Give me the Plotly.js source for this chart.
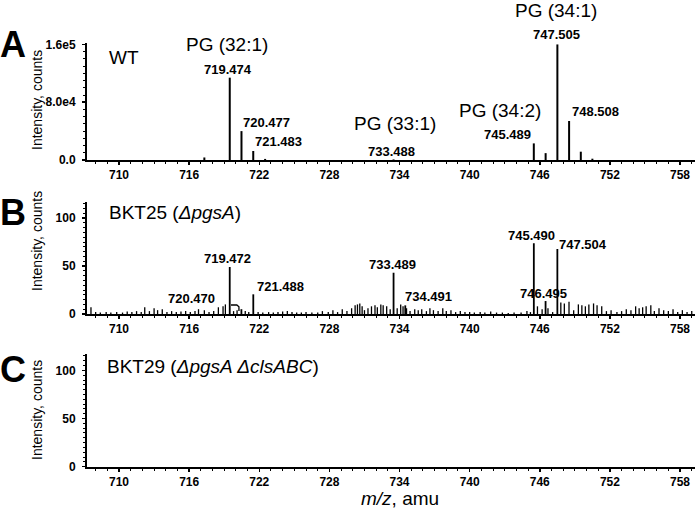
<!DOCTYPE html>
<html><head><meta charset="utf-8">
<script src="https://cdn.plot.ly/plotly-3.0.1.min.js"></script>
<style>html,body{margin:0;padding:0;background:#fff}</style>
</head><body><div id="chart" style="width:700px;height:508px"></div>
<script>
// Panel A (WT) peaks: m/z and intensity (counts)
const mzA  = [717.3, 719.474, 720.477, 721.483, 722.5, 733.488, 745.489, 746.5, 747.505, 748.508, 749.51, 750.5];
const intA = [3500, 114000, 40000, 12500, 1500, 800, 23000, 9500, 160000, 54000, 11500, 1800];

// Panel B (BKT25) labelled peaks
const mzBpk  = [719.472, 720.470, 721.488, 733.489, 734.491, 745.490, 746.495, 747.504];
const intBpk = [49, 5, 20.5, 43, 9, 73.6, 13.5, 67.7];

// Panel B background noise peaks
const mzBnoise = [707.6,708.0,708.4,708.9,709.3,709.8,710.3,710.7,711.1,711.5,711.9,712.2,712.6,713.0,713.3,713.7,714.1,714.5,714.9,715.3,715.7,716.1,716.5,716.8,717.3,717.7,718.1,718.5,718.9,719.1,719.8,720.1,720.8,721.1,721.9,722.3,722.8,723.2,723.6,724.0,724.4,724.8,725.2,725.6,726.0,726.5,727.0,727.4,727.9,728.3,728.7,729.1,729.5,729.9,730.2,730.4,730.6,730.8,731.0,731.3,731.6,731.9,732.1,732.4,732.6,732.9,733.2,733.8,734.1,734.3,734.6,734.9,735.3,735.6,735.9,736.3,736.6,736.9,737.3,737.7,738.0,738.4,738.8,739.2,739.6,740.0,740.4,740.9,741.3,741.8,742.3,742.8,743.3,743.8,744.4,744.9,745.2,745.8,746.2,746.7,747.1,747.8,748.1,748.5,748.9,749.3,749.6,749.9,750.2,750.6,750.9,751.3,751.7,752.1,752.6,753.0,753.4,753.8,754.2,754.5,754.8,755.1,755.5,755.8,756.2,756.6,757.0,757.4,757.8,758.2,758.6,759.0];
const intBnoise = [7,2,1.5,2,1.5,2,1.5,2.5,2,3,2,7,3,6,4,5,2,3,2,2.5,3,2,3,5,4,2,3,7,8,10,3,4,3,2,2,1.5,2,1.5,2,2.5,3,2,1.5,1.5,2,1.5,1.5,3,2,4,2,5,3,6,9,10,11,8,4,6,8,9,7,10,9,8,5,6,10,8,6,3,5,4,5,3,6,4,3,6,3,4,2,3,2,2,1.5,2,1.5,2.5,1.5,1.5,1,1.5,1.5,3,2,8,5,6,2,12,11,12.8,4,10,9,8,10,11,9,8,3,4,2,3,5,4,8,6,7,8,9,3,6,4,3,5,2,4,2,3];

// Panel C (BKT29): no peaks detected
const mzC = [];
const intC = [];

const xTicks = [710, 716, 722, 728, 734, 740, 746, 752, 758];
const yTicksA = [0, 80000, 160000];
const yTickTextA = ['0.0', '8.0e4', '1.6e5'];
const yTicksBC = [0, 50, 100];

function sticks(mz, it) {
  const x = [], y = [];
  mz.forEach((m, i) => { x.push(m, m, null); y.push(0, it[i], null); });
  return {x, y};
}

const sA = sticks(mzA, intA);
const sBn = sticks(mzBnoise, intBnoise);
const sBp = sticks(mzBpk, intBpk);
const sC = sticks(mzC, intC);

const traces = [
  {x: sA.x, y: sA.y, xaxis: 'x', yaxis: 'y', mode: 'lines', line: {color: '#000', width: 2}, hoverinfo: 'skip', showlegend: false},
  {x: sBn.x, y: sBn.y, xaxis: 'x2', yaxis: 'y2', mode: 'lines', line: {color: '#000', width: 1.3}, hoverinfo: 'skip', showlegend: false},
  {x: sBp.x, y: sBp.y, xaxis: 'x2', yaxis: 'y2', mode: 'lines', line: {color: '#000', width: 1.8}, hoverinfo: 'skip', showlegend: false},
  {x: sC.x, y: sC.y, xaxis: 'x3', yaxis: 'y3', mode: 'lines', line: {color: '#000', width: 1.8}, hoverinfo: 'skip', showlegend: false}
];

const W = 700, H = 508;
const px = v => v / W;
const py = v => 1 - v / H;
const FONT = 'Liberation Sans, Arial, sans-serif';
const tickFont = {family: FONT, size: 12, weight: 'bold', color: '#000'};

function xAx(anchor) {
  return {
    domain: [px(87), px(695)], range: [707.26, 759.28], anchor: anchor,
    tickvals: xTicks, ticks: 'outside', ticklen: 3, tickwidth: 1.5, tickcolor: '#000',
    minor: {dtick: 1, ticks: 'outside', ticklen: 2, tickcolor: '#000', tickwidth: 1},
    showline: true, linecolor: '#000', linewidth: 2, showgrid: false, zeroline: false,
    tickfont: tickFont, ticklabelstandoff: 0, fixedrange: true
  };
}
function yAx(anchor, dom, range, tv, tt, minorD) {
  const o = {
    domain: dom, range: range, anchor: anchor,
    tickvals: tv, ticks: 'outside', ticklen: 3, tickwidth: 1.5, tickcolor: '#000',
    minor: {dtick: minorD, ticks: 'outside', ticklen: 2, tickcolor: '#000', tickwidth: 1},
    showline: true, linecolor: '#000', linewidth: 2, showgrid: false, zeroline: false,
    tickfont: tickFont, ticklabelstandoff: 4, fixedrange: true
  };
  if (tt) o.ticktext = tt;
  return o;
}

const lblFont = {family: FONT, size: 13, weight: 'bold', color: '#000'};
const pgFont = {family: FONT, size: 19, color: '#000'};
function pk(xr, yr, x, y, text, xanchor, xshift, yshift, font) {
  return {xref: xr, yref: yr, x: x, y: y, text: text, showarrow: false,
    xanchor: xanchor, yanchor: 'middle', xshift: xshift, yshift: yshift, font: font || lblFont};
}
function pap(x, y, text, font, xanchor, angle) {
  return {xref: 'paper', yref: 'paper', x: px(x), y: py(y), text: text, showarrow: false,
    xanchor: xanchor || 'center', yanchor: 'middle', font: font, textangle: angle || 0};
}

const letterFont = {family: FONT, size: 36, weight: 'bold', color: '#000'};
const yTitleFont = {family: FONT, size: 14, color: '#000'};

const annotations = [
  // Panel A labels
  pk('x', 'y', mzA[1], intA[1], '719.474', 'center', -2, 8),
  pk('x', 'y', mzA[2], intA[2], '720.477', 'left', 0, 9),
  pk('x', 'y', mzA[3], intA[3], '721.483', 'left', 0, 9),
  pk('x', 'y', mzA[5], intA[5], '733.488', 'center', -2, 8),
  pk('x', 'y', mzA[6], intA[6], '745.489', 'right', -1, 9),
  pk('x', 'y', mzA[8], intA[8], '747.505', 'center', -1, 10),
  pk('x', 'y', mzA[9], intA[9], '748.508', 'left', 1, 9),
  pk('x', 'y', mzA[1], intA[1], 'PG (32:1)', 'center', -3, 33, pgFont),
  pk('x', 'y', mzA[5], intA[5], 'PG (33:1)', 'center', 1, 36, pgFont),
  pk('x', 'y', mzA[6], intA[6], 'PG (34:2)', 'center', -34, 33, pgFont),
  pk('x', 'y', mzA[8], intA[8], 'PG (34:1)', 'center', -1, 34, pgFont),
  // Panel B labels
  pk('x2', 'y2', mzBpk[0], intBpk[0], '719.472', 'center', -2, 8),
  pk('x2', 'y2', mzBpk[1], intBpk[1], '720.470', 'right', -24, 11),
  pk('x2', 'y2', mzBpk[2], intBpk[2], '721.488', 'left', 2, 8),
  pk('x2', 'y2', mzBpk[3], intBpk[3], '733.489', 'center', -1, 8),
  pk('x2', 'y2', mzBpk[4], intBpk[4], '734.491', 'left', -2, 9),
  pk('x2', 'y2', mzBpk[5], intBpk[5], '745.490', 'center', -2, 8),
  pk('x2', 'y2', mzBpk[6], intBpk[6], '746.495', 'center', -2, 8),
  pk('x2', 'y2', mzBpk[7], intBpk[7], '747.504', 'left', 0, 5),
  // sample names
  pap(107, 57, 'WT', pgFont, 'left'),
  pap(107, 213, 'BKT25 (<i>ΔpgsA</i>)', pgFont, 'left'),
  pap(105, 366, 'BKT29 (<i>ΔpgsA ΔclsABC</i>)', pgFont, 'left'),
  // panel letters
  pap(13, 45, 'A', letterFont),
  pap(12.5, 213, 'B', letterFont),
  pap(12.5, 369, 'C', letterFont),
  // y titles
  pap(37, 100, 'Intensity, counts', yTitleFont, 'center', -90),
  pap(37, 241, 'Intensity, counts', yTitleFont, 'center', -90),
  pap(37, 410, 'Intensity, counts', yTitleFont, 'center', -90),
  // x title
  pap(400, 498, '<i>m/z</i>, amu', pgFont)
];

const layout = {
  width: W, height: H, margin: {l: 0, r: 0, t: 0, b: 0},
  paper_bgcolor: '#fff', plot_bgcolor: 'rgba(0,0,0,0)',
  font: {family: FONT, color: '#000'},
  showlegend: false,
  xaxis: xAx('y'), xaxis2: xAx('y2'), xaxis3: xAx('y3'),
  yaxis: yAx('x', [py(160), py(43)], [0, 162000], yTicksA, yTickTextA, 10000),
  yaxis2: yAx('x2', [py(314), py(201.7)], [0, 117], yTicksBC, null, 5),
  yaxis3: yAx('x3', [py(466.7), py(354)], [0, 117], yTicksBC, null, 5),
  annotations: annotations,
  shapes: [
    {type: 'path', xref: 'x2', yref: 'y2', path: 'M 719.58,9.4 L 720.08,9.4 L 720.26,7.5 L 720.26,3', line: {color: '#000', width: 1.3}}
  ]
};

Plotly.newPlot('chart', traces, layout, {staticPlot: true, displayModeBar: false});
</script>
</body></html>
